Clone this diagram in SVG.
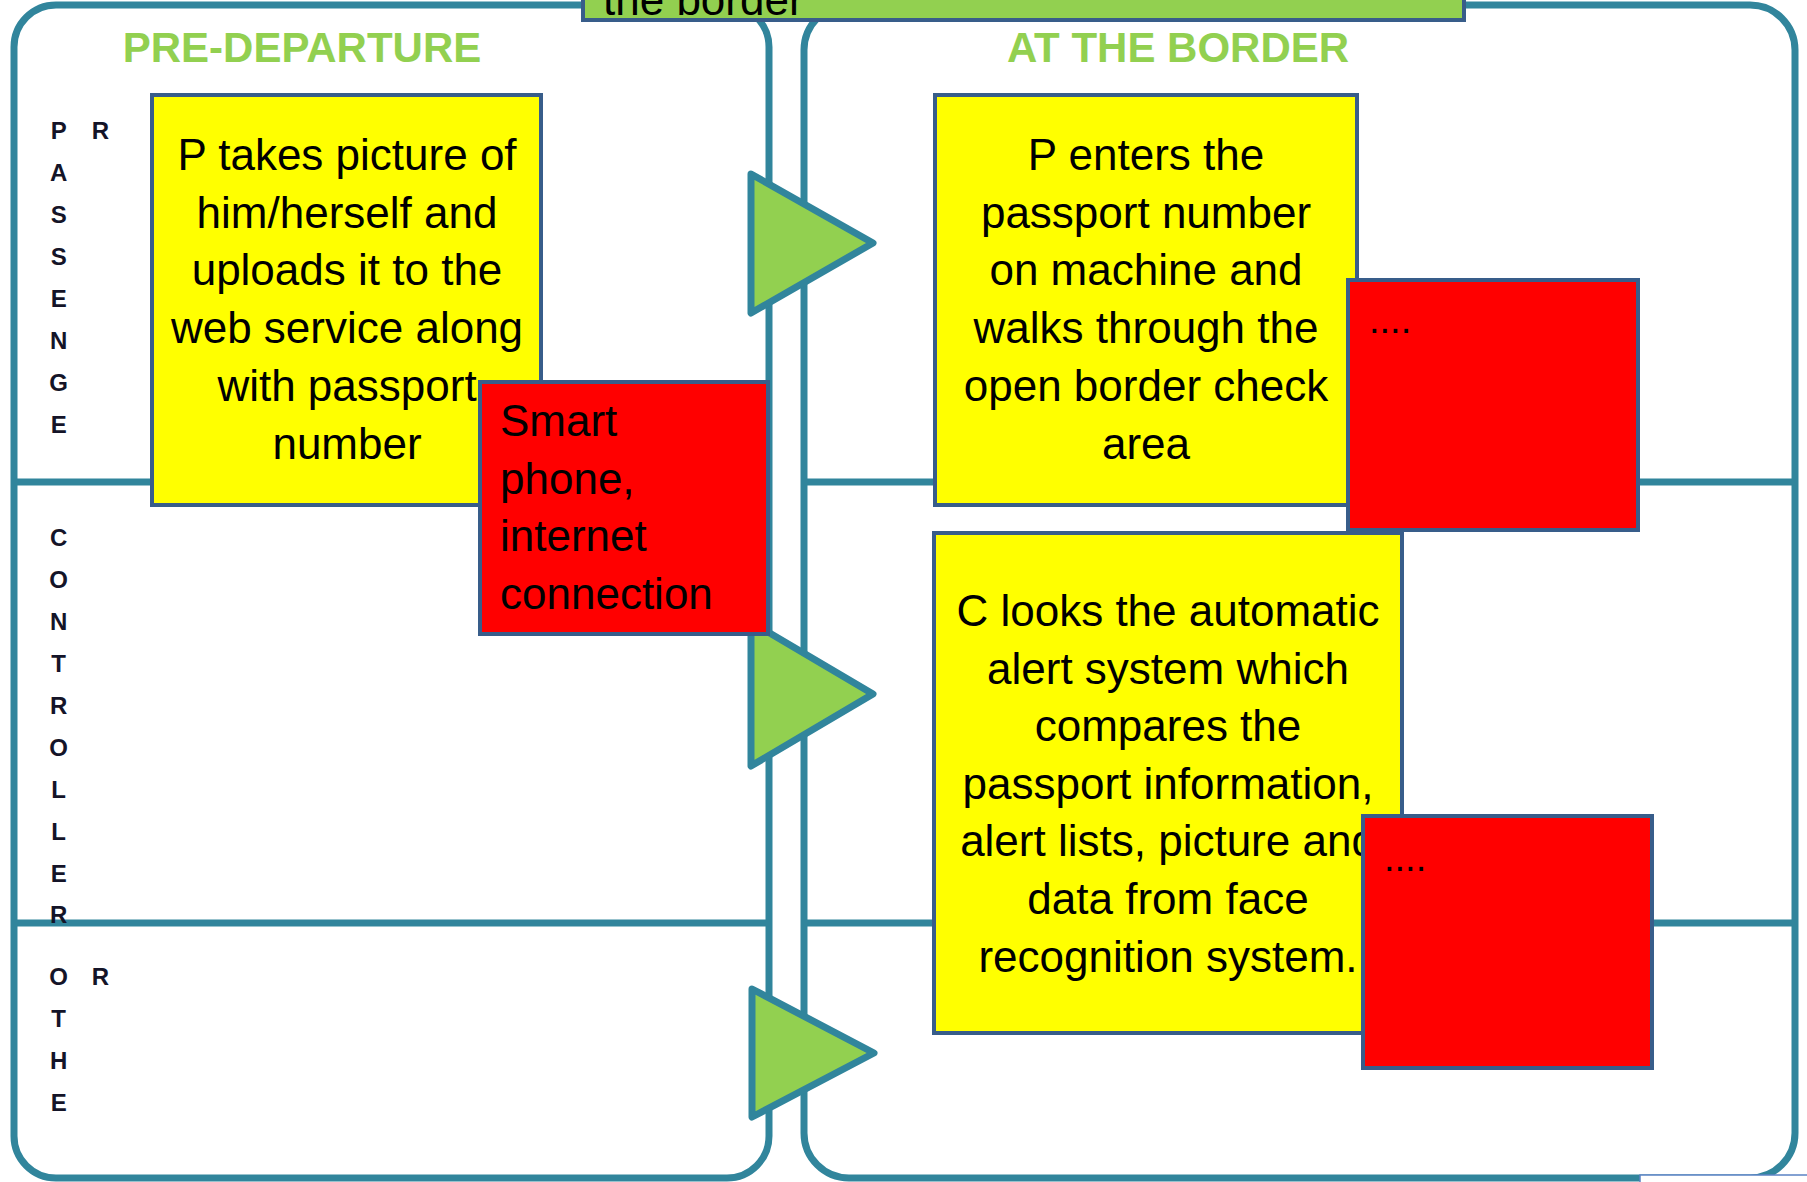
<svg xmlns="http://www.w3.org/2000/svg" width="1807" height="1182" viewBox="0 0 1807 1182">
  <style>
    .panel { fill: #FFFFFF; stroke: #31859C; stroke-width: 7; }
    .divider { stroke: #31859C; stroke-width: 7; fill: none; }
    .arrow { fill: #92D050; stroke: #31859C; stroke-width: 7; stroke-linejoin: round; }
    .yellow { fill: #FFFF00; stroke: #385D8A; stroke-width: 4; }
    .red { fill: #FF0000; stroke: #385D8A; stroke-width: 4; }
    .hdrbox { fill: #92D050; stroke: #385D8A; stroke-width: 4; }
    .body { font-family: "Liberation Sans", Arial, sans-serif; font-size: 44px; fill: #000000; }
    .mid { text-anchor: middle; }
    .dots { font-family: "Liberation Sans", Arial, sans-serif; font-size: 38px; fill: #000000; }
    .header { font-family: "Liberation Sans", Arial, sans-serif; font-size: 42px; font-weight: bold; fill: #92D050; text-anchor: middle; }
    .lane { font-family: "Liberation Sans", Arial, sans-serif; font-size: 24px; font-weight: bold; fill: #141428; text-anchor: middle; }
  </style>

  <rect width="1807" height="1182" fill="#FFFFFF"/>

  <g id="panel-pre-departure">
    <rect class="panel" x="14" y="5" width="755" height="1173" rx="42" ry="42"/>
    <line class="divider" x1="14" y1="482" x2="769" y2="482"/>
    <line class="divider" x1="14" y1="923" x2="769" y2="923"/>
    <text class="header" x="302" y="62">PRE-DEPARTURE</text>
  </g>

  <g id="panel-at-the-border">
    <rect class="panel" x="804" y="5" width="991" height="1173" rx="45" ry="45"/>
    <line class="divider" x1="804" y1="482" x2="1795" y2="482"/>
    <line class="divider" x1="804" y1="923" x2="1795" y2="923"/>
    <text class="header" x="1178" y="62">AT THE BORDER</text>
  </g>

  <g id="title-box">
    <rect class="hdrbox" x="583" y="-60" width="881" height="80"/>
    <text class="body" x="603" y="15">the border</text>
  </g>

  <g id="lane-passenger">
    <text class="lane" x="58.7" y="139">P</text>
    <text class="lane" x="58.7" y="181">A</text>
    <text class="lane" x="58.7" y="223">S</text>
    <text class="lane" x="58.7" y="265">S</text>
    <text class="lane" x="58.7" y="307">E</text>
    <text class="lane" x="58.7" y="349">N</text>
    <text class="lane" x="58.7" y="391">G</text>
    <text class="lane" x="58.7" y="433">E</text>
    <text class="lane" x="100.5" y="139">R</text>
  </g>

  <g id="lane-controller">
    <text class="lane" x="58.7" y="546">C</text>
    <text class="lane" x="58.7" y="588">O</text>
    <text class="lane" x="58.7" y="630">N</text>
    <text class="lane" x="58.7" y="672">T</text>
    <text class="lane" x="58.7" y="714">R</text>
    <text class="lane" x="58.7" y="756">O</text>
    <text class="lane" x="58.7" y="798">L</text>
    <text class="lane" x="58.7" y="840">L</text>
    <text class="lane" x="58.7" y="882">E</text>
    <text class="lane" x="58.7" y="923">R</text>
  </g>

  <g id="lane-other">
    <text class="lane" x="58.7" y="985">O</text>
    <text class="lane" x="58.7" y="1027">T</text>
    <text class="lane" x="58.7" y="1069">H</text>
    <text class="lane" x="58.7" y="1111">E</text>
    <text class="lane" x="100.5" y="985">R</text>
  </g>

  <g id="connectors">
    <polygon class="arrow" points="751,174 873,243 751,313"/>
    <polygon class="arrow" points="751,622 873,694 751,766"/>
    <polygon class="arrow" points="752,989 874,1053 752,1117"/>
  </g>

  <g id="node-p-takes-picture">
    <rect class="yellow" x="152" y="95" width="389" height="410"/>
    <text class="body mid" x="347" y="170">P takes picture of</text>
    <text class="body mid" x="347" y="228">him/herself and</text>
    <text class="body mid" x="347" y="285">uploads it to the</text>
    <text class="body mid" x="347" y="343">web service along</text>
    <text class="body mid" x="347" y="401">with passport</text>
    <text class="body mid" x="347" y="459">number</text>
  </g>

  <g id="node-smart-phone">
    <rect class="red" x="480" y="382" width="288" height="252"/>
    <text class="body" x="500" y="436">Smart</text>
    <text class="body" x="500" y="494">phone,</text>
    <text class="body" x="500" y="551">internet</text>
    <text class="body" x="500" y="609">connection</text>
  </g>

  <g id="node-p-enters">
    <rect class="yellow" x="935" y="95" width="422" height="410"/>
    <text class="body mid" x="1146" y="170">P enters the</text>
    <text class="body mid" x="1146" y="228">passport number</text>
    <text class="body mid" x="1146" y="285">on machine and</text>
    <text class="body mid" x="1146" y="343">walks through the</text>
    <text class="body mid" x="1146" y="401">open border check</text>
    <text class="body mid" x="1146" y="459">area</text>
  </g>

  <g id="node-red-passenger-border">
    <rect class="red" x="1348" y="280" width="290" height="250"/>
    <text class="dots" x="1369" y="333">....</text>
  </g>

  <g id="node-c-looks">
    <rect class="yellow" x="934" y="533" width="468" height="500"/>
    <text class="body mid" x="1168" y="626">C looks the automatic</text>
    <text class="body mid" x="1168" y="684">alert system which</text>
    <text class="body mid" x="1168" y="741">compares the</text>
    <text class="body mid" x="1168" y="799">passport information,</text>
    <text class="body mid" x="1168" y="856">alert lists, picture and</text>
    <text class="body mid" x="1168" y="914">data from face</text>
    <text class="body mid" x="1168" y="972">recognition system.</text>
  </g>

  <g id="node-red-controller-border">
    <rect class="red" x="1363" y="816" width="289" height="252"/>
    <text class="dots" x="1384" y="871">....</text>
  </g>

  <g id="node-corner-box">
    <rect x="1640" y="1175" width="200" height="40" fill="#FFFFFF" stroke="#5B82C4" stroke-width="1.5"/>
  </g>
</svg>
